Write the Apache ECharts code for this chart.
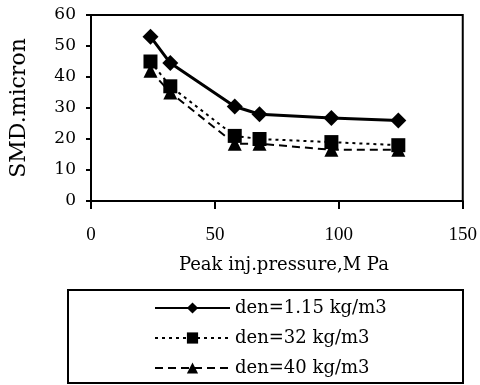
<!DOCTYPE html>
<html>
<head>
<meta charset="utf-8">
<script src="https://cdn.jsdelivr.net/npm/echarts@6/dist/echarts.min.js"></script>
<style>html,body{margin:0;padding:0;background:#fff;}#c{width:480px;height:385px;}</style>
</head>
<body>
<div id="c"></div>
<script>
var pressure = [24, 32, 58, 68, 97, 124];
var den115 = [53, 44.5, 30.5, 28, 26.8, 26];
var den32 = [45, 37, 21, 20, 19, 18];
var den40 = [42, 35, 18.5, 18.5, 16.5, 16.5];
var seriesNames = ['den=1.15 kg/m3', 'den=32 kg/m3', 'den=40 kg/m3'];
var xTicks = [0, 50, 100, 150];
var yTicks = [0, 10, 20, 30, 40, 50, 60];

function pairs(ys) { return pressure.map(function (x, i) { return [x, ys[i]]; }); }

var chart = echarts.init(document.getElementById('c'));
chart.setOption({
  backgroundColor: '#fff',
  animation: false,
  grid: { left: 90, right: 13, top: 15, bottom: 184, show: true, borderColor: '#000', borderWidth: 2, backgroundColor: 'transparent' },
  xAxis: {
    type: 'value', min: xTicks[0], max: xTicks[xTicks.length - 1], interval: 50,
    name: 'Peak inj.pressure,M Pa', nameLocation: 'middle', nameGap: 55,
    nameTextStyle: { fontFamily: 'DejaVu Serif', fontSize: 18, color: '#000', padding: [0, 0, 0, 14] },
    axisLine: { show: true, lineStyle: { color: '#000', width: 2 } },
    axisTick: { show: true, inside: false, length: 8, lineStyle: { color: '#000', width: 2 } },
    axisLabel: { margin: 25, fontFamily: 'Liberation Serif', fontSize: 19, color: '#000' },
    splitLine: { show: false }
  },
  yAxis: {
    type: 'value', min: yTicks[0], max: yTicks[yTicks.length - 1], interval: 10,
    name: 'SMD.micron', nameLocation: 'middle', nameGap: 61, nameRotate: 90,
    nameTextStyle: { fontFamily: 'DejaVu Serif', fontSize: 22, color: '#000' },
    axisLine: { show: true, lineStyle: { color: '#000', width: 2 } },
    axisTick: { show: true, inside: false, length: 5, lineStyle: { color: '#000', width: 2 } },
    axisLabel: { margin: 15, fontFamily: 'DejaVu Serif', fontSize: 17, color: '#000' },
    splitLine: { show: false }
  },
  legend: {
    orient: 'vertical', left: 149, top: 294, itemWidth: 75, itemHeight: 14, itemGap: 12,
    textStyle: { fontFamily: 'DejaVu Serif', fontSize: 18, color: '#000', lineHeight: 18 },
    data: seriesNames
  },
  graphic: [{
    type: 'rect', shape: { x: 68, y: 290, width: 395, height: 93 },
    style: { fill: 'none', stroke: '#000', lineWidth: 2 }, silent: true
  }],
  series: [
    { name: seriesNames[0], type: 'line', data: pairs(den115), symbol: 'diamond', symbolSize: 16,
      itemStyle: { color: '#000' }, lineStyle: { color: '#000', width: 3, type: 'solid' } },
    { name: seriesNames[1], type: 'line', data: pairs(den32), symbol: 'rect', symbolSize: 14,
      itemStyle: { color: '#000' }, lineStyle: { color: '#000', width: 2, type: [3, 4] } },
    { name: seriesNames[2], type: 'line', data: pairs(den40), symbol: 'triangle', symbolSize: 14,
      itemStyle: { color: '#000' }, lineStyle: { color: '#000', width: 2, type: [8, 5] } }
  ]
});
</script>
</body>
</html>
